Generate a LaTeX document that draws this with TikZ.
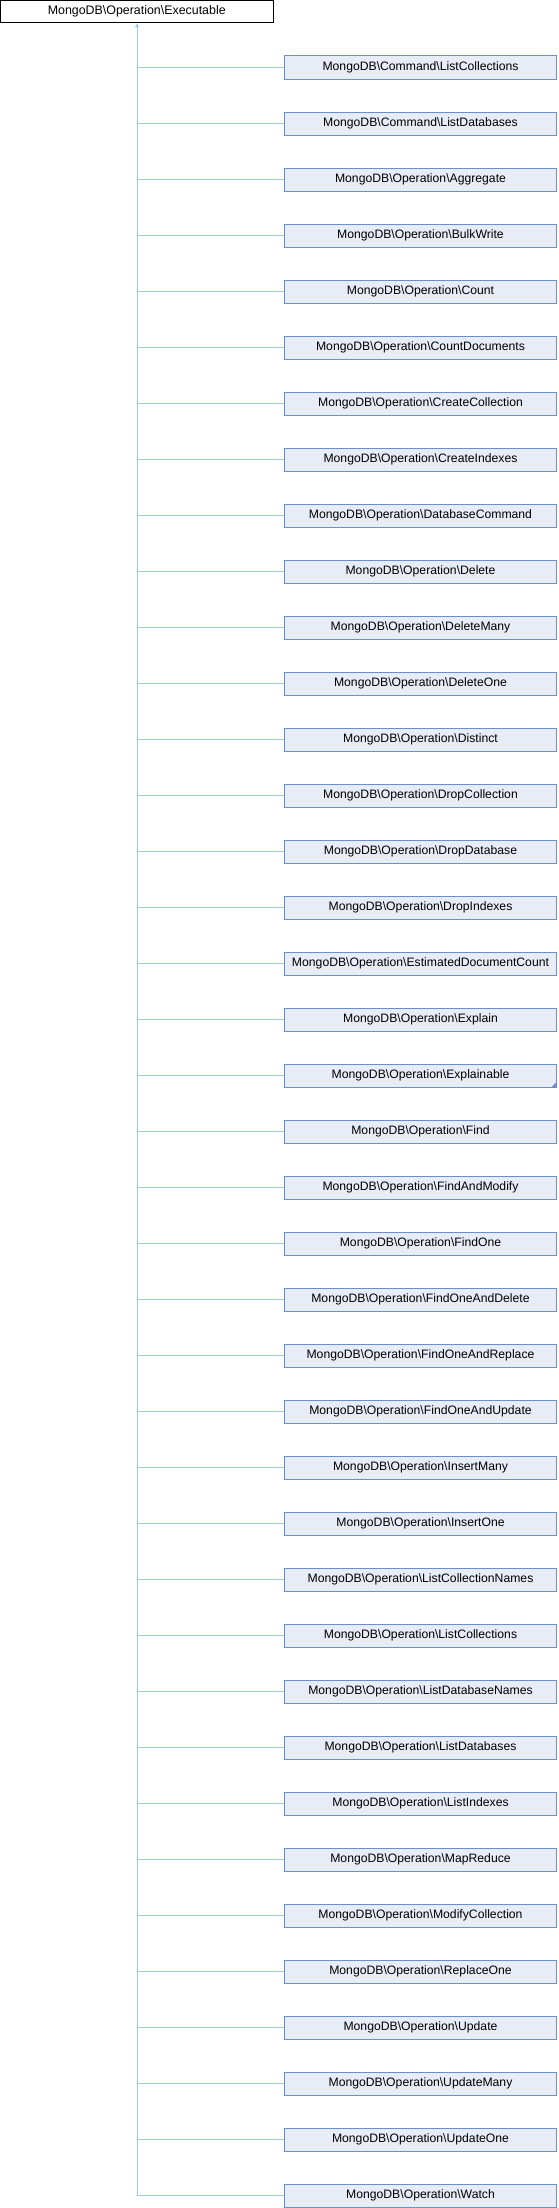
\documentclass[tikz,border=0pt]{standalone}
\usepackage{fontspec}
\setmainfont{Liberation Sans}
\usetikzlibrary{arrows.meta,calc}
\definecolor{edgecol}{HTML}{98CCEA}
\definecolor{boxfill}{HTML}{E8ECF6}
\definecolor{boxdraw}{HTML}{6C8ECF}
\tikzset{
  cls/.style={draw=boxdraw, fill=boxfill, line width=1pt, minimum width=272pt, minimum height=23pt, inner sep=0pt, font=\fontsize{12.2}{14}\selectfont, anchor=center},
  rootcls/.style={draw=black, fill=white, line width=1pt, minimum width=272.5pt, minimum height=22.5pt, inner sep=0pt, font=\fontsize{12.4}{14}\selectfont},
  edge/.style={draw=edgecol, line width=1pt},
  tip/.style={-{Triangle[length=4pt,width=4pt,fill=edgecol]}}
}
\begin{document}
\begin{tikzpicture}[x=1pt,y=-1pt]
\useasboundingbox (0,0) rectangle (558,2208);
\node[rootcls] (root) at (136.75,11.75) {MongoDB\textbackslash Operation\textbackslash Executable};
\foreach \t [count=\i from 0] in {%
Command\textbackslash ListCollections,
Command\textbackslash ListDatabases,
Operation\textbackslash Aggregate,
Operation\textbackslash BulkWrite,
Operation\textbackslash Count,
Operation\textbackslash CountDocuments,
Operation\textbackslash CreateCollection,
Operation\textbackslash CreateIndexes,
Operation\textbackslash DatabaseCommand,
Operation\textbackslash Delete,
Operation\textbackslash DeleteMany,
Operation\textbackslash DeleteOne,
Operation\textbackslash Distinct,
Operation\textbackslash DropCollection,
Operation\textbackslash DropDatabase,
Operation\textbackslash DropIndexes,
Operation\textbackslash EstimatedDocumentCount,
Operation\textbackslash Explain,
Operation\textbackslash Explainable,
Operation\textbackslash Find,
Operation\textbackslash FindAndModify,
Operation\textbackslash FindOne,
Operation\textbackslash FindOneAndDelete,
Operation\textbackslash FindOneAndReplace,
Operation\textbackslash FindOneAndUpdate,
Operation\textbackslash InsertMany,
Operation\textbackslash InsertOne,
Operation\textbackslash ListCollectionNames,
Operation\textbackslash ListCollections,
Operation\textbackslash ListDatabaseNames,
Operation\textbackslash ListDatabases,
Operation\textbackslash ListIndexes,
Operation\textbackslash MapReduce,
Operation\textbackslash ModifyCollection,
Operation\textbackslash ReplaceOne,
Operation\textbackslash Update,
Operation\textbackslash UpdateMany,
Operation\textbackslash UpdateOne,
Operation\textbackslash Watch}{
  \node[cls] (c\i) at (420.5,{67.5+56*\i}) {MongoDB\textbackslash \t};
  \draw[edge] (c\i.west) -- (137,{67.5+56*\i});
}
\draw[edge,tip] (137,{67.5+56*38}) -- (137,23.5);
% small triangle on Explainable (has further derived classes)
\fill[boxdraw] ($(c18.south east)+(-0.5,-0.5)$) -- ++(-5,0) -- ++(5,-5) -- cycle;
\end{tikzpicture}
\end{document}
